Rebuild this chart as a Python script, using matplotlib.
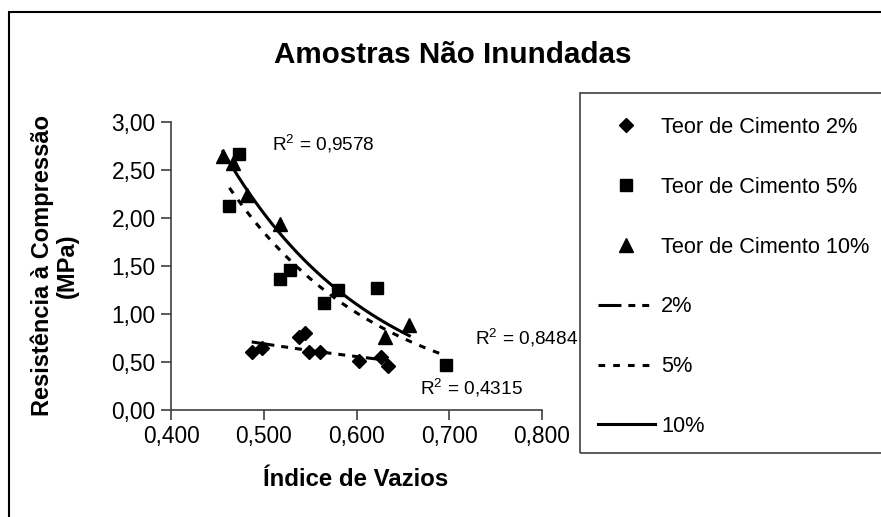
import numpy as np
import matplotlib.pyplot as plt
from matplotlib.lines import Line2D
from matplotlib.patches import Rectangle

plt.rcParams['font.family'] = ['Liberation Sans', 'DejaVu Sans']
plt.rcParams['mathtext.fontset'] = 'custom'
plt.rcParams['mathtext.rm'] = 'Liberation Sans'
plt.rcParams['lines.scale_dashes'] = False

# Dados (indice de vazios x resistencia, MPa)
e_2 = [0.487, 0.498, 0.538, 0.544, 0.549, 0.561, 0.603, 0.626, 0.634]
r_2 = [0.60, 0.65, 0.76, 0.80, 0.60, 0.60, 0.51, 0.555, 0.46]

e_5 = [0.463, 0.473, 0.5175, 0.528, 0.565, 0.580, 0.622, 0.697]
r_5 = [2.12, 2.67, 1.365, 1.46, 1.115, 1.25, 1.27, 0.47]

e_10 = [0.456, 0.467, 0.482, 0.518, 0.631, 0.657]
r_10 = [2.65, 2.57, 2.24, 1.94, 0.76, 0.89]

r2_labels = ['R$^{2}$ = 0,4315', 'R$^{2}$ = 0,8484', 'R$^{2}$ = 0,9578']
x_ticks = [0.4, 0.5, 0.6, 0.7, 0.8]
y_ticks = [0.0, 0.5, 1.0, 1.5, 2.0, 2.5, 3.0]


def exp_trend(x, y):
    # linha de tendencia exponencial (como no Excel)
    b, a = np.polyfit(x, np.log(y), 1)
    xs = np.linspace(min(x), max(x), 100)
    return xs, np.exp(a) * np.exp(b * xs)


fig = plt.figure(figsize=(8.81, 5.17), dpi=100)
ax = fig.add_axes([171 / 881, 1 - 410 / 517, (542 - 171) / 881, (410 - 122) / 517])

ls_2 = (0, (16.5, 5, 5, 5, 5, 5))
ls_5 = (0, (4.8, 5.8))
lw = 2.2

ax.plot(e_2, r_2, 'D', color='black', ms=6.8, clip_on=False)
ax.plot(e_5, r_5, 's', color='black', ms=8.6, clip_on=False)
ax.plot(e_10, r_10, '^', color='black', ms=9.4, clip_on=False)

xs, ys = exp_trend(e_2, r_2)
ax.plot(xs, ys, color='black', lw=lw, linestyle=ls_2)
xs, ys = exp_trend(e_5, r_5)
ax.plot(xs, ys, color='black', lw=lw, linestyle=ls_5)
xs, ys = exp_trend(e_10, r_10)
ax.plot(xs, ys, color='black', lw=lw, linestyle='-')

ax.text(0.668, 0.23, r2_labels[0], fontsize=13.7, ha='left', va='center')
ax.text(0.728, 0.75, r2_labels[1], fontsize=13.7, ha='left', va='center')
ax.text(0.509, 2.78, r2_labels[2], fontsize=13.7, ha='left', va='center')

ax.set_xlim(0.4, 0.8)
ax.set_ylim(0, 3)
ax.set_xticks(x_ticks)
ax.set_yticks(y_ticks)
ax.set_xticklabels([f'{v:.3f}'.replace('.', ',') for v in x_ticks])
ax.set_yticklabels([f'{v:.2f}'.replace('.', ',') for v in y_ticks])
ax.tick_params(direction='out', length=7, width=1.2, colors='#404040',
               labelcolor='black', labelsize=16.4, pad=4)
for s in ['top', 'right']:
    ax.spines[s].set_visible(False)
for s in ['left', 'bottom']:
    ax.spines[s].set_color('#404040')
    ax.spines[s].set_linewidth(1.2)

fig.text(453 / 881, 1 - 55 / 517, 'Amostras Não Inundadas', fontsize=21.3,
         fontweight='bold', ha='center', va='center')
fig.text(356 / 881, 1 - 480 / 517, 'Índice de Vazios', fontsize=17.3,
         fontweight='bold', ha='center', va='center')
fig.text(55 / 881, 1 - 266 / 517, 'Resistência à Compressão\n(MPa)', fontsize=17,
         fontweight='bold', ha='center', va='center', rotation=90,
         multialignment='center', linespacing=1.1)

# moldura externa e caixa da legenda
fig.patches.append(Rectangle((9 / 881, -0.1), 1.2, 1.1 - 12 / 517, transform=fig.transFigure,
                             fill=False, edgecolor='black', lw=1.5))
fig.patches.append(Rectangle((580 / 881, 1 - 453 / 517), 1.0, (453 - 93) / 517,
                             transform=fig.transFigure, fill=False,
                             edgecolor='#404040', lw=1.2))

handles = [
    Line2D([], [], marker='D', color='black', ls='none', ms=6.8),
    Line2D([], [], marker='s', color='black', ls='none', ms=8.6),
    Line2D([], [], marker='^', color='black', ls='none', ms=9.4),
    Line2D([], [], color='black', lw=lw, linestyle=ls_2),
    Line2D([], [], color='black', lw=lw, linestyle=ls_5),
    Line2D([], [], color='black', lw=lw, linestyle='-'),
]
labels = ['Teor de Cimento 2%', 'Teor de Cimento 5%', 'Teor de Cimento 10%',
          '2%', '5%', '10%']
fig.legend(handles, labels, loc='upper left', bbox_to_anchor=(598 / 881, 1 - 117 / 517),
           frameon=False, fontsize=15.7, borderpad=0, borderaxespad=0,
           handlelength=2.6, handletextpad=0.3, labelspacing=1.78)

fig.savefig('out.png', dpi=100)
